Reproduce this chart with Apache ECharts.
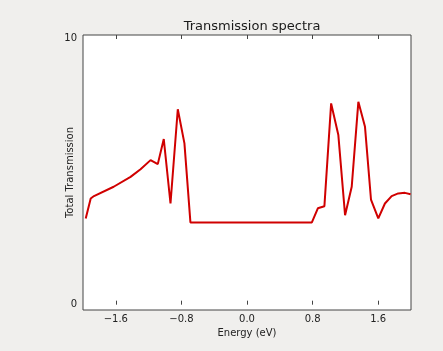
<!DOCTYPE html>
<html><head><meta charset="utf-8">
<script src="https://cdn.jsdelivr.net/npm/echarts@6/dist/echarts.min.js"></script>
<style>html,body{margin:0;padding:0;background:#f0efed;}#c{width:443px;height:351px;}</style>
</head><body><div id="c"></div>
<script>
const energy = [-1.967,-1.906,-1.866,-1.626,-1.420,-1.298,-1.176,-1.088,-1.015,-0.933,-0.844,-0.763,-0.690,0.791,0.864,0.944,1.026,1.114,1.196,1.277,1.358,1.439,1.512,1.601,1.682,1.764,1.844,1.926,1.995];
const transmission = [3.24,3.99,4.08,4.43,4.80,5.09,5.43,5.28,6.22,3.80,7.34,6.06,3.09,3.09,3.62,3.70,7.56,6.37,3.36,4.43,7.62,6.68,3.95,3.24,3.80,4.08,4.18,4.20,4.15];
const xTicks = [-1.6,-0.8,0.0,0.8,1.6];
const yTicks = [0,10];

const data = energy.map((e,i)=>[e,transmission[i]]);
const font = 'DejaVu Sans';
const chart = echarts.init(document.getElementById('c'));
chart.setOption({
  backgroundColor:'#f0efed',
  animation:false,
  title:{text:'Transmission spectra',left:247,top:15,textAlign:'center',
    textStyle:{fontFamily:font,fontSize:13,fontWeight:'normal',color:'#1a1a1a'}},
  grid:{left:83,right:32,top:35,bottom:41,show:true,backgroundColor:'#fff',borderColor:'#444',borderWidth:1},
  xAxis:[{type:'value',min:-2,max:2,position:'bottom',
    name:'Energy (eV)',nameLocation:'middle',nameGap:17,
    nameTextStyle:{fontFamily:font,fontSize:10,color:'#222'},
    axisLine:{show:false},splitLine:{show:false},
    axisTick:{show:true,inside:true,length:4,customValues:xTicks,lineStyle:{color:'#444'}},
    axisLabel:{customValues:xTicks,margin:4,fontFamily:font,fontSize:10,color:'#222',
      formatter:v=>(v<0?'\u2212':'')+Math.abs(v).toFixed(1)}},
   {type:'value',min:-2,max:2,position:'top',
    axisLine:{show:false},splitLine:{show:false},axisLabel:{show:false},
    axisTick:{show:true,inside:true,length:4,customValues:xTicks,lineStyle:{color:'#444'}}}],
  yAxis:{type:'value',min:-0.2,max:10.13,
    name:'Total Transmission',nameLocation:'middle',nameGap:8,nameMoveOverlap:false,
    nameTextStyle:{fontFamily:font,fontSize:10,color:'#222'},
    axisLine:{show:false},splitLine:{show:false},
    axisTick:{show:false},
    axisLabel:{customValues:yTicks,margin:6,fontFamily:font,fontSize:10,color:'#222'}},
  series:[{type:'line',data:data,showSymbol:false,
    lineStyle:{color:'#d00000',width:2},itemStyle:{color:'#d00000'}}]
});
</script></body></html>
